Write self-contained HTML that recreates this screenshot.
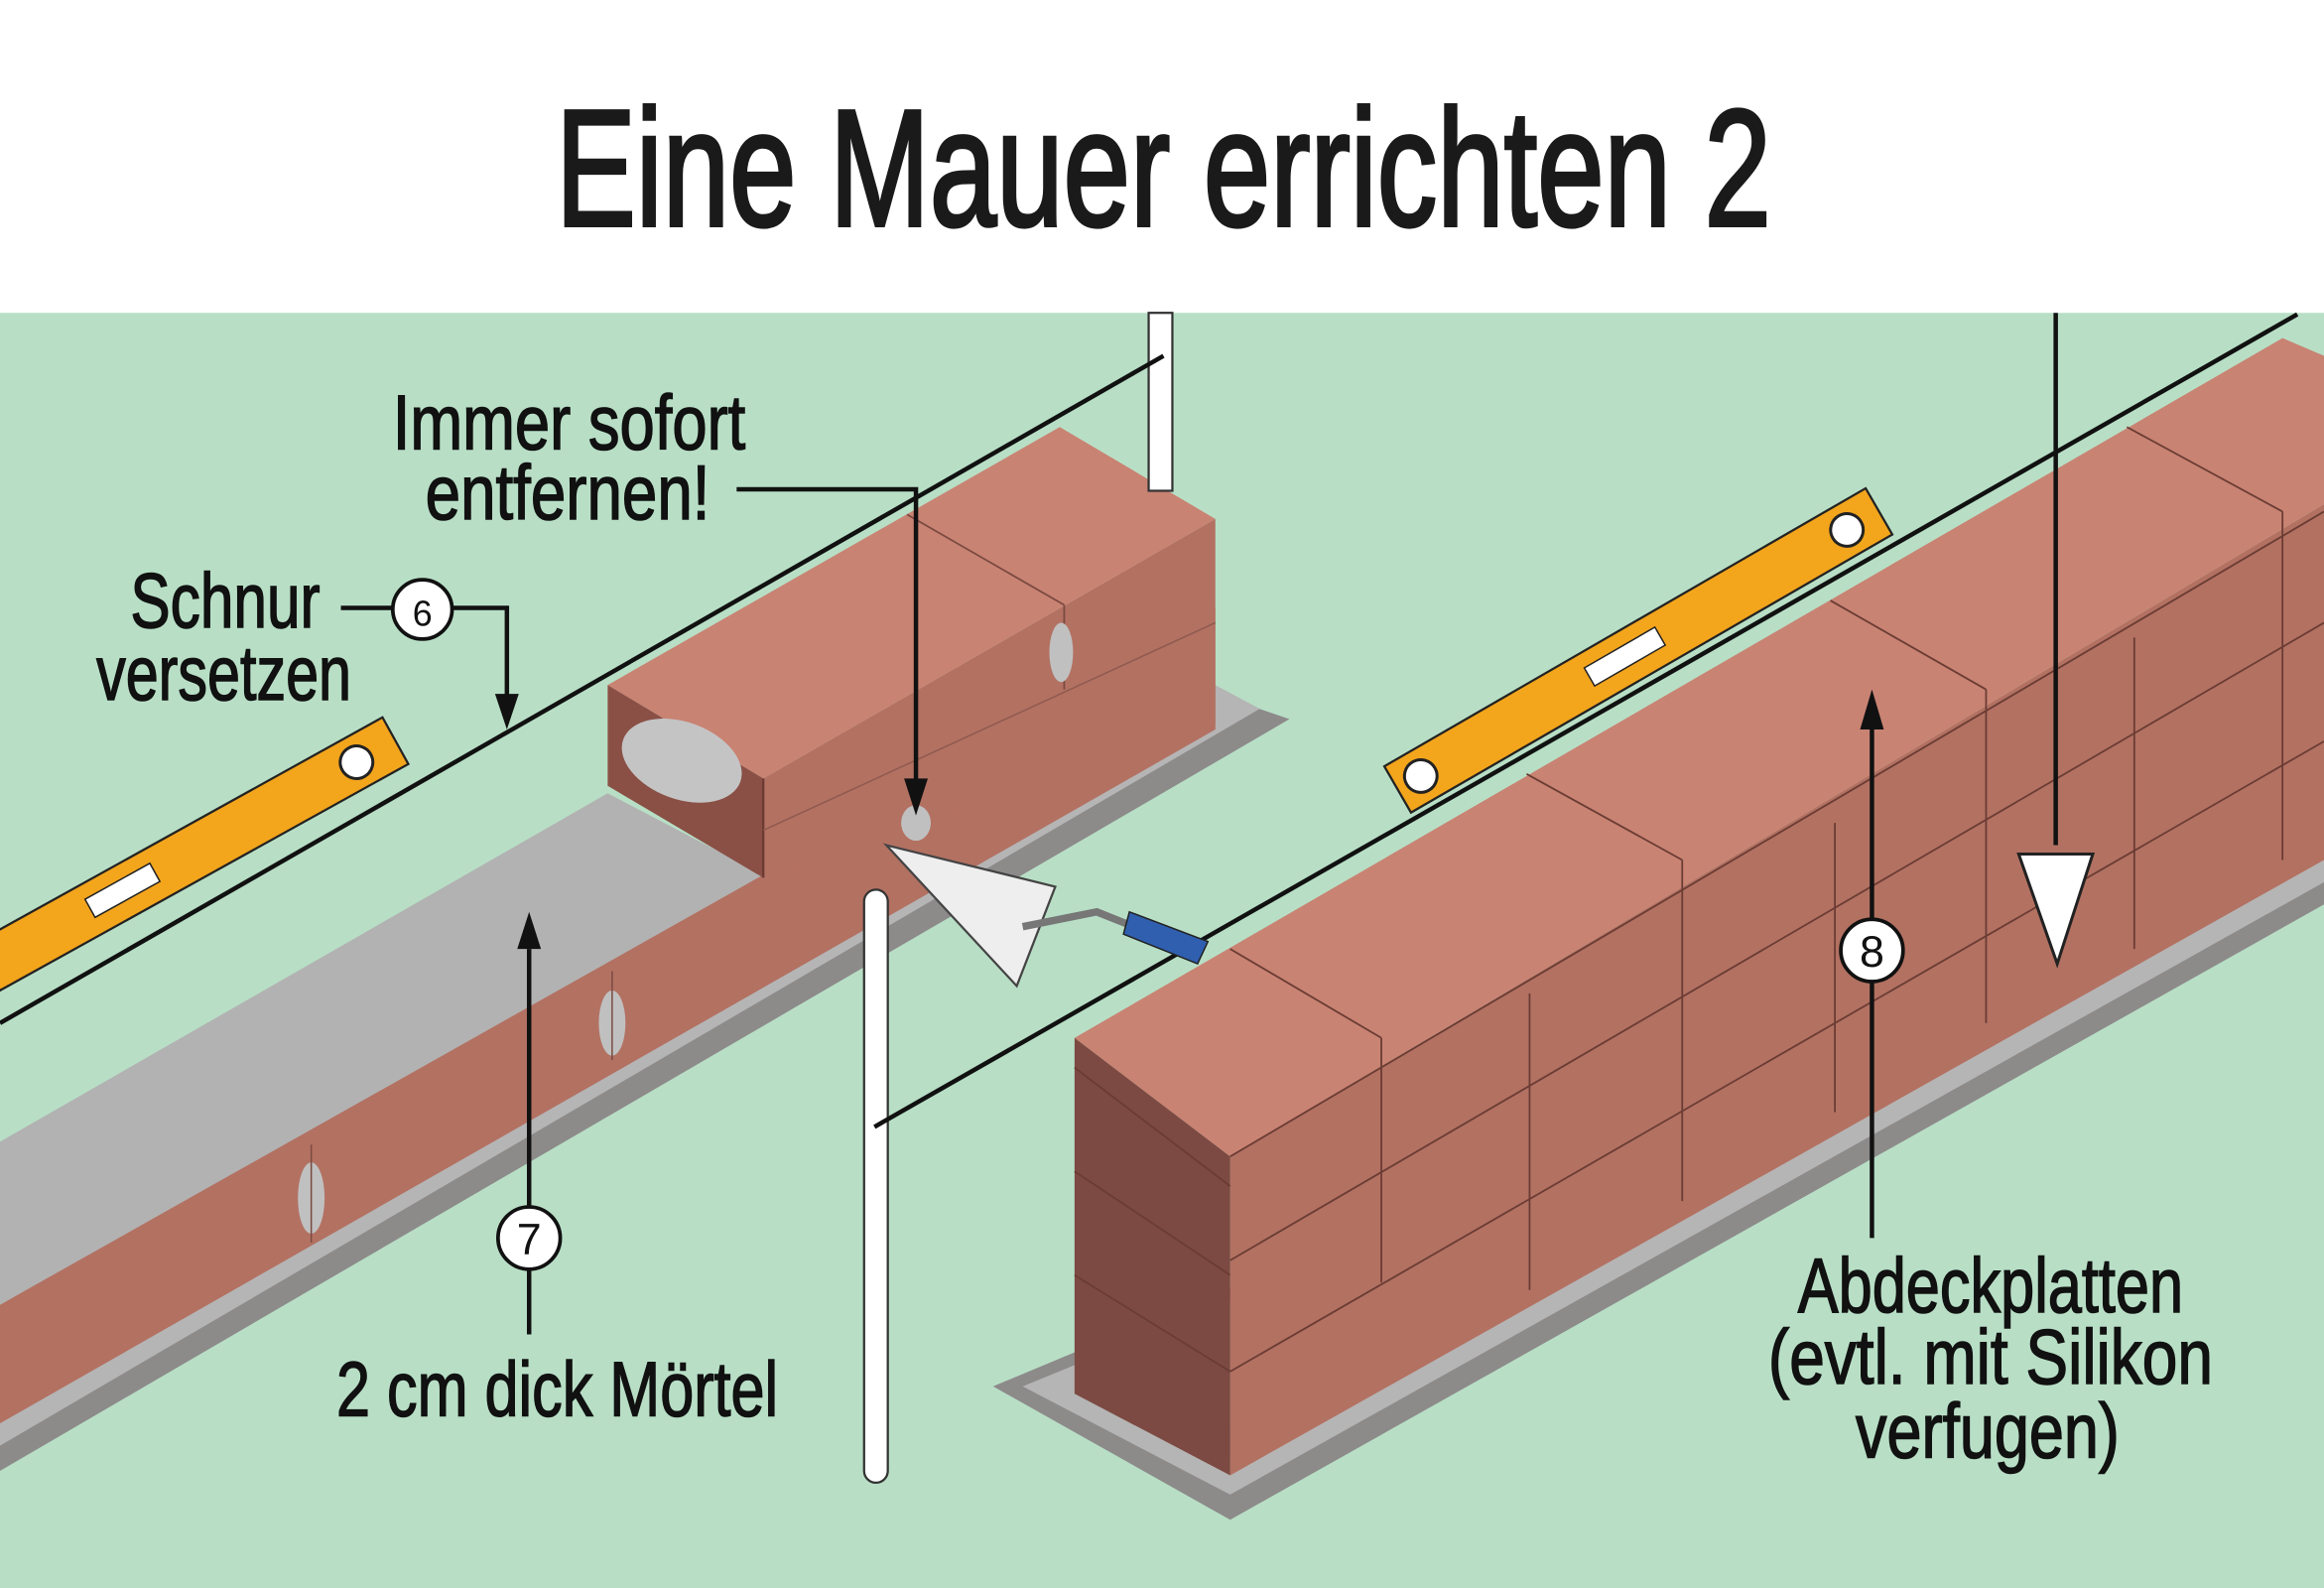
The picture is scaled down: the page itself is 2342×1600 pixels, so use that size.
<!DOCTYPE html>
<html><head><meta charset="utf-8"><style>html,body{margin:0;padding:0;background:#fff}svg{display:block}</style></head>
<body>
<svg width="2342" height="1600" viewBox="0 0 1568 1071" preserveAspectRatio="none" xmlns="http://www.w3.org/2000/svg" font-family="Liberation Sans, sans-serif">
<rect x="0" y="0" width="1568" height="1071" fill="#fff"/>
<text x="785" y="152" font-size="112" textLength="820" lengthAdjust="spacingAndGlyphs" text-anchor="middle" fill="#1a1a1a" stroke="#1a1a1a" stroke-width="2.5">Eine Mauer errichten 2</text>
<rect x="0" y="211" width="1568" height="860" fill="#b8dfc6"/>

<polygon points="0,955 820,468 870,485 0,992" fill="#8d8a8a"/>
<polygon points="0,950 820,462 850,478 0,975" fill="#b5b5b5"/>
<polygon points="0,880 820,410 820,492 0,960" fill="#b37162"/>
<polygon points="0,770 410,535 515,590 0,880" fill="#b2b2b2"/>
<polygon points="515,525 820,350 820,490 515,592" fill="#b37162"/>
<polygon points="410,462 715,288 820,350 515,525" fill="#c98373"/>
<polygon points="410,462 515,525 515,592 410,530" fill="#8a5045"/>
<ellipse cx="460" cy="513" rx="42" ry="26" fill="#c4c4c4" transform="rotate(20 460 513)"/>
<line x1="515" y1="525" x2="515" y2="592" stroke="#6b3a33" stroke-width="1.5"/>
<line x1="612" y1="347" x2="718" y2="408" stroke="#7a4a40" stroke-width="1.2"/>
<line x1="718" y1="408" x2="718" y2="465" stroke="#7a4a40" stroke-width="1.2"/>
<line x1="515" y1="560" x2="820" y2="420" stroke="#8e5a4f" stroke-width="1"/>
<ellipse cx="716" cy="440" rx="8" ry="20" fill="#c0c0c0"/>
<ellipse cx="618" cy="555" rx="10" ry="12" fill="#c0c0c0"/>
<ellipse cx="413" cy="690" rx="9" ry="22" fill="#c0c0c0"/>
<ellipse cx="210" cy="808" rx="9" ry="24" fill="#c0c0c0"/>
<line x1="413" y1="655" x2="413" y2="715" stroke="#7a4a40" stroke-width="1"/>
<line x1="210" y1="772" x2="210" y2="838" stroke="#7a4a40" stroke-width="1"/>

<polygon points="670,935 1568,560 1568,610 830,1025" fill="#8d8a8a"/>
<polygon points="690,935 1568,575 1568,595 830,1008" fill="#b5b5b5"/>
<polygon points="830,780 1568,340 1568,580 830,995" fill="#b37162"/>
<polygon points="725,700 1540,228 1568,240 1568,340 830,780" fill="#c98373"/>
<polygon points="725,700 830,780 830,995 725,940" fill="#7c4a42"/>
<g stroke="#6a3c34" stroke-width="1.2" fill="none">
<line x1="725" y1="720" x2="830" y2="800"/>
<line x1="725" y1="790" x2="830" y2="860"/>
<line x1="725" y1="860" x2="830" y2="925"/>
<line x1="830" y1="850" x2="1568" y2="420"/>
<line x1="830" y1="925" x2="1568" y2="500"/>
<line x1="830" y1="640" x2="932" y2="700"/>
<line x1="1030" y1="522" x2="1135" y2="580"/>
<line x1="1235" y1="405" x2="1340" y2="465"/>
<line x1="1435" y1="288" x2="1540" y2="345"/>
<line x1="932" y1="700" x2="932" y2="865"/>
<line x1="1032" y1="670" x2="1032" y2="870"/>
<line x1="1135" y1="580" x2="1135" y2="810"/>
<line x1="1238" y1="555" x2="1238" y2="750"/>
<line x1="1340" y1="465" x2="1340" y2="690"/>
<line x1="1440" y1="430" x2="1440" y2="640"/>
<line x1="1540" y1="345" x2="1540" y2="580"/>
<line x1="830" y1="780" x2="1568" y2="345"/>
</g>

<g transform="translate(0,668) rotate(-29)">
<rect x="0" y="-36" width="315" height="36" fill="#f3a51c" stroke="#222" stroke-width="1.5"/>
<rect x="80" y="-26" width="50" height="14" fill="#fff" stroke="#222"/>
<circle cx="285" cy="-18" r="11" fill="#fff" stroke="#222" stroke-width="2"/>
</g>
<g transform="translate(952,548) rotate(-30)">
<rect x="0" y="-36" width="375" height="36" fill="#f3a51c" stroke="#222" stroke-width="1.5"/>
<rect x="150" y="-26" width="55" height="14" fill="#fff" stroke="#222"/>
<circle cx="18" cy="-18" r="11" fill="#fff" stroke="#222" stroke-width="2"/>
<circle cx="350" cy="-18" r="11" fill="#fff" stroke="#222" stroke-width="2"/>
</g>

<rect x="775" y="211" width="16" height="120" fill="#fff" stroke="#333" stroke-width="1.5"/>
<line x1="0" y1="690" x2="785" y2="240" stroke="#111" stroke-width="3"/>
<rect x="583" y="600" width="16" height="400" rx="8" fill="#fff" stroke="#333" stroke-width="1.5"/>
<line x1="590" y1="760" x2="1550" y2="212" stroke="#111" stroke-width="3"/>

<polygon points="598,570 712,598 686,665" fill="#eee" stroke="#444" stroke-width="1.5"/>
<path d="M690,625 L740,615 L765,625" stroke="#777" stroke-width="5" fill="none"/>
<polygon points="762,615 815,635 808,650 758,630" fill="#2f5fae" stroke="#222"/>

<line x1="1387" y1="211" x2="1387" y2="570" stroke="#111" stroke-width="3"/>
<polygon points="1362,576 1412,576 1388,650" fill="#fff" stroke="#222" stroke-width="2"/>

<g stroke="#111" stroke-width="3" fill="none">
<polyline points="497,330 618,330 618,530"/>
<line x1="230" y1="410" x2="265" y2="410"/>
<polyline points="305,410 342,410 342,475"/>
<line x1="357" y1="900" x2="357" y2="640"/>
<line x1="1263" y1="835" x2="1263" y2="488"/>
</g>
<g fill="#111">
<polygon points="610,525 626,525 618,550"/>
<polygon points="334,468 350,468 342,492"/>
<polygon points="349,640 365,640 357,615"/>
<polygon points="1255,492 1271,492 1263,465"/>
</g>
<g fill="#fff" stroke="#111" stroke-width="2.5">
<circle cx="285" cy="411" r="20"/>
<circle cx="357" cy="835" r="21"/>
<circle cx="1263" cy="641" r="21"/>
</g>
<g font-size="30" text-anchor="middle" fill="#111">
<text x="285" y="422" font-size="24">6</text>
<text x="357" y="846">7</text>
<text x="1263" y="652">8</text>
</g>
<g font-size="52" text-anchor="middle" fill="#111" stroke="#111" stroke-width="1">
<text x="384" y="303" textLength="238" lengthAdjust="spacingAndGlyphs">Immer sofort</text>
<text x="383" y="350" textLength="192" lengthAdjust="spacingAndGlyphs">entfernen!</text>
<text x="152" y="423" textLength="128" lengthAdjust="spacingAndGlyphs">Schnur</text>
<text x="151" y="472" textLength="172" lengthAdjust="spacingAndGlyphs">versetzen</text>
<text x="376" y="955" textLength="298" lengthAdjust="spacingAndGlyphs">2 cm dick Mörtel</text>
<text x="1343" y="885" textLength="260" lengthAdjust="spacingAndGlyphs">Abdeckplatten</text>
<text x="1343" y="933" textLength="300" lengthAdjust="spacingAndGlyphs">(evtl. mit Silikon</text>
<text x="1341" y="983" textLength="178" lengthAdjust="spacingAndGlyphs">verfugen)</text>
</g>
</svg>
</body></html>
